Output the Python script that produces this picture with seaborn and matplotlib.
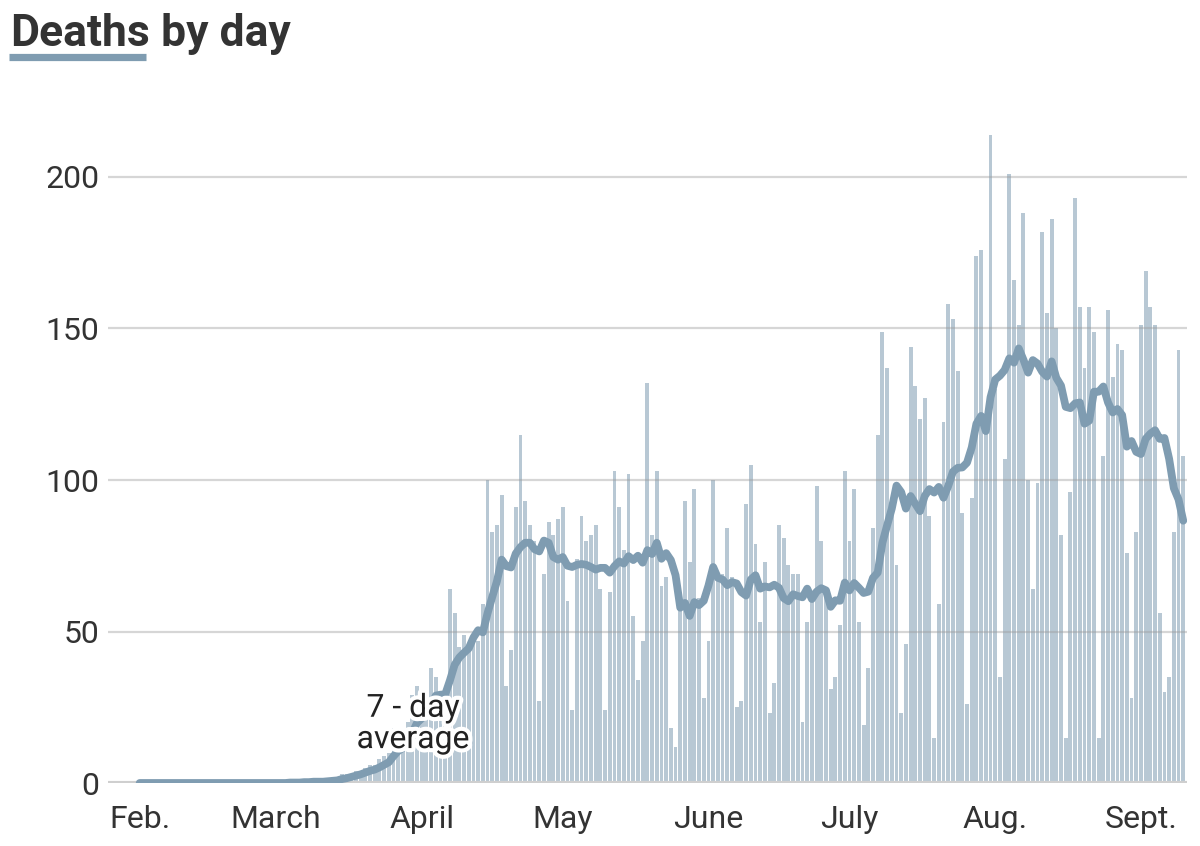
import numpy as np
import pandas as pd
import matplotlib
matplotlib.use("Agg")
import matplotlib.pyplot as plt
import matplotlib.patheffects as pe
from matplotlib.lines import Line2D
import seaborn as sns

# ---- data: daily deaths, Feb 1 - Sept 10, 2020 ----
feb = [0] * 29
march = [0, 0, 0, 1, 0, 0, 1, 0, 1, 0, 1, 1, 1, 2, 3, 3, 3, 4, 4, 5,
         6, 6, 8, 9, 10, 18, 17, 13, 20, 29, 32]
april = [20, 28, 38, 35, 22, 30, 64, 56, 45, 49, 45, 47, 47, 59, 100,
         83, 85, 95, 32, 44, 91, 115, 93, 85, 80, 27, 69, 86, 82, 87]
may = [91, 60, 24, 74, 88, 80, 82, 85, 64, 24, 63, 103, 91, 77, 102,
       55, 34, 47, 132, 82, 103, 65, 68, 18, 12, 57, 93, 73, 97, 61, 28]
june = [47, 100, 68, 69, 84, 68, 25, 27, 92, 105, 79, 53, 73, 23, 33,
        85, 81, 72, 69, 69, 20, 53, 61, 98, 80, 64, 31, 35, 52, 103]
july = [80, 97, 53, 19, 38, 84, 115, 149, 137, 92, 72, 23, 46, 144, 131,
        120, 127, 88, 15, 59, 119, 158, 153, 136, 89, 26, 94, 174, 176, 118, 214]
aug = [130, 35, 107, 201, 166, 151, 188, 100, 64, 99, 182, 155, 186, 150, 82,
       15, 96, 193, 157, 137, 157, 149, 15, 108, 156, 134, 145, 143, 76, 28, 83]
sept = [151, 169, 157, 151, 56, 30, 35, 83, 143, 108]

month_labels = ["Feb.", "March", "April", "May", "June", "July", "Aug.", "Sept."]
month_lengths = [len(feb), len(march), len(april), len(may), len(june), len(july), len(aug)]
y_ticks = [0, 50, 100, 150, 200]

deaths = feb + march + april + may + june + july + aug + sept
df = pd.DataFrame({"day": np.arange(len(deaths)), "deaths": deaths})
df["avg"] = df["deaths"].rolling(7, min_periods=1).mean()
month_starts = list(np.cumsum([0] + month_lengths))

# ---- style ----
sns.set_style("white")
plt.rcParams["font.family"] = ["Roboto", "DejaVu Sans"]

BAR = "#b8c8d4"
LINE = "#7f9cb1"
TXT = "#333333"

W, H = 1200, 846
fig = plt.figure(figsize=(W / 100, H / 100), dpi=100)
ax = fig.add_axes([108 / W, 1 - 783 / H, (1187 - 108) / W, (783 - 116.4) / H])

sns.barplot(data=df, x="day", y="deaths", native_scale=True, color=BAR,
            saturation=1, width=0.82, errorbar=None, linewidth=0, ax=ax, zorder=1)
sns.lineplot(data=df, x="day", y="avg", color=LINE, linewidth=5.6, ax=ax,
             zorder=4, solid_capstyle="round", solid_joinstyle="round")

ax.set_xlim(-6.74, 222.8)
ax.set_ylim(0, 220)
ax.set_xlabel("")
ax.set_ylabel("")

for v in y_ticks[1:]:
    ax.axhline(v, color="#9a9a9a", alpha=0.4, lw=1.6, zorder=2)
ax.axhline(0, color="#cfcfcf", lw=3, zorder=3)

ax.set_yticks(y_ticks)
ax.set_yticklabels([str(v) for v in y_ticks])
ax.set_xticks(month_starts)
ax.set_xticklabels(month_labels)
ax.tick_params(axis="y", length=0, pad=6, labelsize=23, labelcolor=TXT)
ax.tick_params(axis="x", length=8.5, width=1.3, color="#cccccc", pad=7,
               labelsize=23, labelcolor=TXT, direction="out")
for s in ax.spines.values():
    s.set_visible(False)
ax.grid(False)

# annotation
ax.text(58.2, 19.5, "7 - day\naverage", ha="center", va="center", fontsize=23,
        color="#222222", linespacing=1.1, zorder=5,
        path_effects=[pe.withStroke(linewidth=6, foreground="white")])

# title with underline under "Deaths"
t1 = fig.text(10 / W, 1 - 46 / H, "Deaths", fontsize=32, fontweight="bold",
              color=TXT, ha="left", va="baseline")
fig.canvas.draw()
bb = t1.get_window_extent()
fig.text(bb.x1 / W, 1 - 46 / H, " by day", fontsize=32, fontweight="bold",
         color=TXT, ha="left", va="baseline")
fig.add_artist(Line2D([9 / W, 146 / W], [1 - 57.5 / H, 1 - 57.5 / H],
                      transform=fig.transFigure, color=LINE, lw=5.2,
                      solid_capstyle="butt"))

fig.savefig("out.png", dpi=100, facecolor="white")
